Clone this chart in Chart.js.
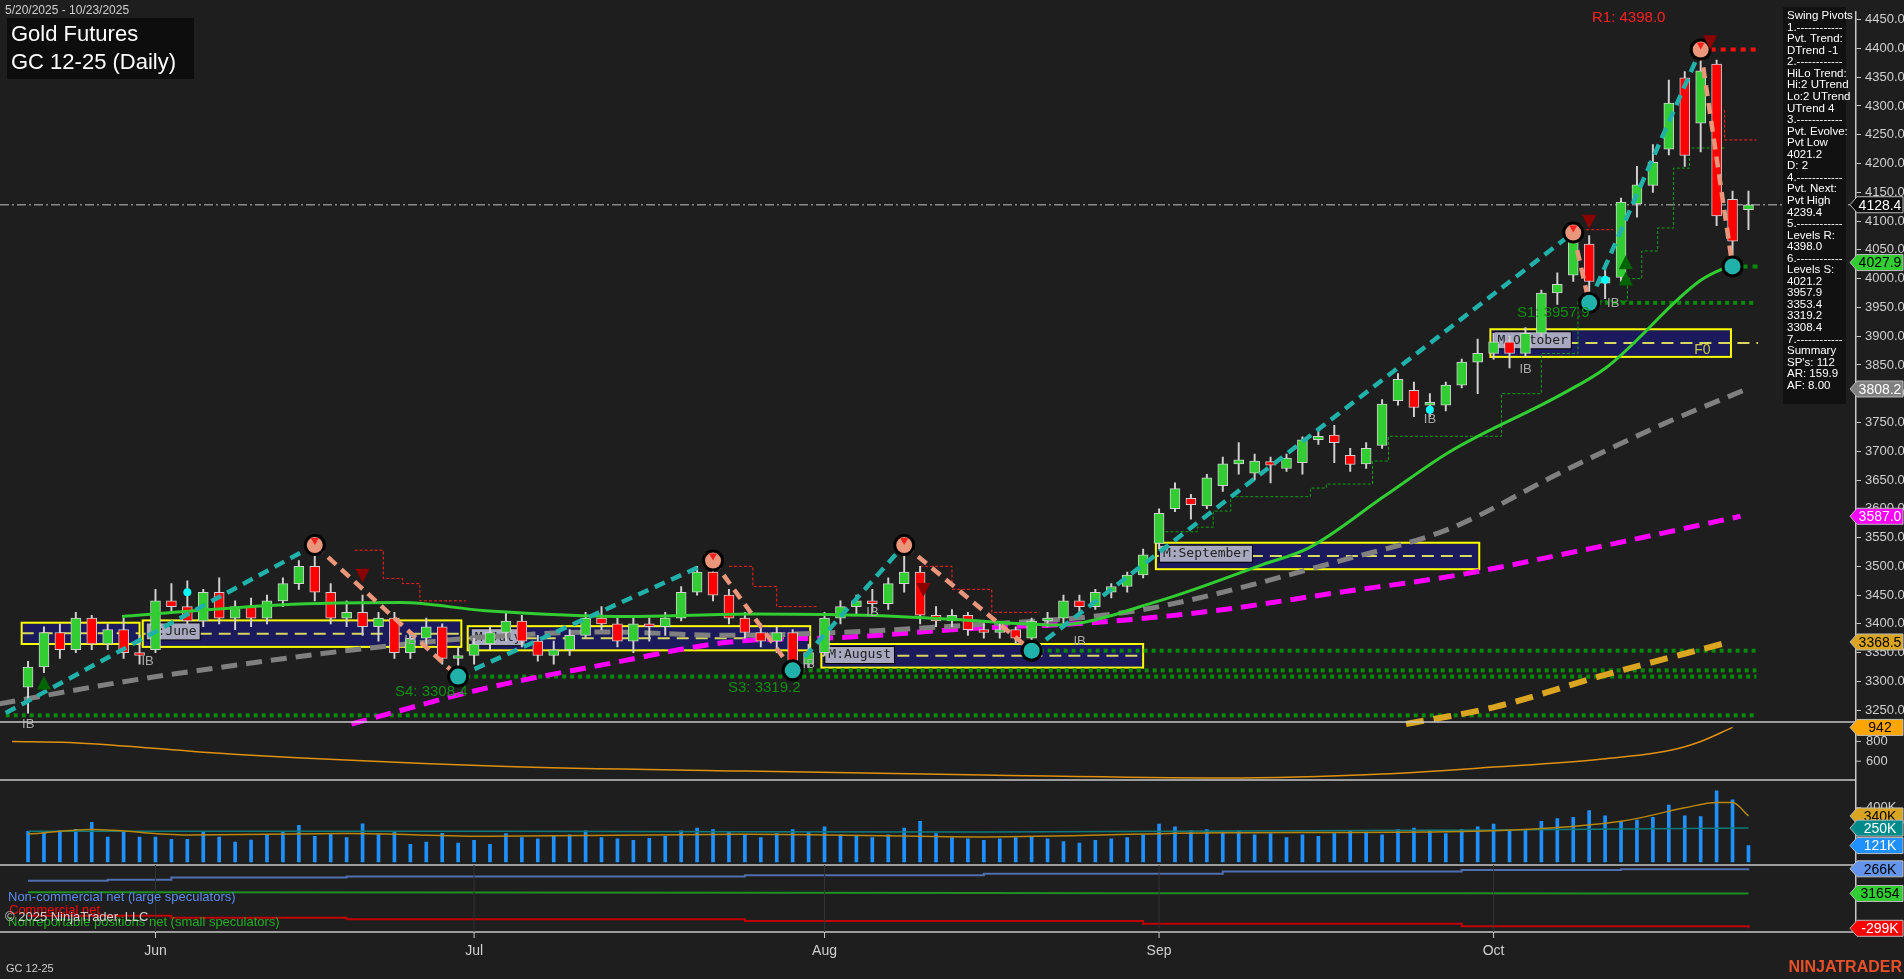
<!DOCTYPE html>
<html><head><meta charset="utf-8">
<script src="https://cdn.jsdelivr.net/npm/chart.js@4.4.1/dist/chart.umd.min.js"></script>
<style>html,body{margin:0;padding:0;background:#1e1e1e;overflow:hidden}#wrap{width:1904px;height:979px}</style>
</head><body><div id="wrap"><canvas id="c" width="1904" height="979"></canvas></div>
<script>
// ---------- DATA ----------
const dates = ["05-20","05-21","05-22","05-23","05-27","05-28","05-29","05-30",
"06-02","06-03","06-04","06-05","06-06","06-09","06-10","06-11","06-12","06-13","06-16","06-17","06-18","06-20","06-23","06-24","06-25","06-26","06-27","06-30",
"07-01","07-02","07-03","07-07","07-08","07-09","07-10","07-11","07-14","07-15","07-16","07-17","07-18","07-21","07-22","07-23","07-24","07-25","07-28","07-29","07-30","07-31",
"08-01","08-04","08-05","08-06","08-07","08-08","08-11","08-12","08-13","08-14","08-15","08-18","08-19","08-20","08-21","08-22","08-25","08-26","08-27","08-28","08-29",
"09-02","09-03","09-04","09-05","09-08","09-09","09-10","09-11","09-12","09-15","09-16","09-17","09-18","09-19","09-22","09-23","09-24","09-25","09-26","09-29","09-30",
"10-01","10-02","10-03","10-06","10-07","10-08","10-09","10-10","10-13","10-14","10-15","10-16","10-17","10-20","10-21","10-22","10-23"];
const opens = [3290,3325,3385,3355,3410,3365,3390,3350,
3355,3440,3430,3405,3455,3410,3430,3410,3440,3470,3500,3455,3410,3420,3395,3410,3350,3375,3395,3340,
3345,3365,3385,3405,3370,3345,3355,3380,3410,3400,3370,3400,3395,3410,3455,3490,3450,3410,3385,3370,3385,3330,
3350,3410,3430,3440,3435,3470,3490,3415,3405,3415,3390,3385,3390,3375,3405,3410,3440,3430,3455,3465,3485,
3540,3600,3618,3605,3640,3678,3662,3682,3670,3680,3720,3728,3693,3678,3710,3788,3806,3780,3780,3815,3855,
3870,3890,3870,3905,3975,4006,4060,3992,4002,4130,4162,4225,4349,4270,4373,4138,4120];
const highs = [3335,3395,3400,3420,3415,3400,3410,3380,
3460,3470,3475,3460,3480,3440,3445,3450,3480,3510,3537,3470,3440,3450,3420,3420,3385,3410,3400,3360,
3375,3395,3420,3415,3380,3370,3390,3420,3430,3410,3410,3410,3420,3465,3500,3510,3460,3420,3400,3395,3390,3365,
3420,3440,3450,3460,3480,3537,3500,3430,3425,3420,3400,3400,3395,3410,3420,3450,3450,3460,3470,3490,3530,
3600,3645,3625,3660,3690,3715,3695,3690,3695,3725,3735,3745,3705,3715,3790,3835,3820,3800,3820,3860,3895,
3905,3900,3915,3980,4010,4080,4075,4025,4140,4195,4233,4345,4360,4398,4380,4152,4152];
const lows = [3245,3315,3340,3350,3355,3355,3340,3330,
3350,3420,3400,3395,3400,3390,3395,3400,3430,3460,3440,3400,3395,3380,3370,3340,3340,3360,3330,3308.4,
3330,3355,3370,3360,3335,3330,3345,3375,3390,3360,3350,3370,3380,3405,3450,3440,3400,3375,3360,3350,3319.2,3325,
3345,3400,3415,3420,3425,3455,3400,3395,3395,3380,3375,3375,3365,3353.4,3395,3400,3420,3425,3445,3455,3480,
3530,3595,3582,3600,3630,3660,3650,3645,3665,3660,3712,3680,3665,3670,3705,3780,3760,3760,3770,3810,3800,
3860,3845,3865,3900,3955,3995,3957.9,3965,3995,4107,4150,4215,4195,4220,4092,4021.2,4085];
const closes = [3325,3385,3355,3410,3365,3390,3350,3345,
3440,3430,3405,3455,3410,3430,3410,3440,3470,3500,3455,3410,3420,3395,3410,3350,3375,3395,3340,3345,
3365,3385,3405,3370,3345,3355,3380,3410,3400,3370,3400,3395,3410,3455,3490,3450,3410,3385,3370,3385,3330,3350,
3410,3430,3440,3435,3470,3490,3415,3405,3415,3390,3385,3390,3375,3405,3410,3440,3430,3455,3465,3485,3520,
3592,3635,3607,3654,3678,3685,3683,3676,3688,3720,3726,3715,3677,3705,3782,3825,3776,3785,3815,3855,3870,
3890,3870,3905,3975,3990,4064,3995,4002,4133,4163,4202,4305,4214,4361,4109,4065,4128.4];
const volumeK = [226,226,231,241,292,183,226,183,183,168,168,226,183,146,161,197,226,270,190,212,180,282,205,226,131,146,212,139,160,131,
210,180,170,190,200,230,180,170,160,175,190,230,250,240,220,200,180,210,240,220,
260,200,190,180,200,250,300,210,180,170,160,170,180,190,170,150,140,160,170,180,200,
280,260,230,240,220,230,200,210,180,200,190,210,230,220,200,240,250,230,210,240,260,
280,230,240,300,320,330,380,340,300,310,330,420,340,336,526,460,121];
// moving averages / indicator lines read as sparse points [barIndex, value]
const ma20 = [[5.9,3413],[15.8,3433],[23.4,3437],[28.7,3423],[37.9,3413],[45.5,3417],[54.6,3413],[59.2,3406],[64.5,3398],[71,3440],[77.5,3503],[80.4,3532],[85.2,3623],[89.3,3700],[96.2,3798],[99.1,3846],[105,3997],[107.3,4027.9]];
const ma50 = [[-1.8,3261],[5.9,3299],[13.5,3330],[21.1,3357],[28.7,3377],[36.3,3386],[43.9,3380],[51.6,3386],[59.2,3398],[66.8,3413],[71,3430],[82.3,3509],[89.3,3566],[96,3660],[102.7,3748],[107.9,3808.2]];
const ma100 = [[20.3,3226],[28.7,3288],[36.3,3330],[43.9,3368],[51.6,3377],[59.2,3392],[66.8,3402],[74.5,3423],[82.1,3454],[89.8,3485],[97.4,3527],[107.5,3587]];
const ma200 = [[86.5,3226],[92,3255],[98.7,3309],[106.8,3368.5]];
const oscLine = [[-1,800],[2.6,790],[12.9,670],[29.6,550],[45,500],[60,460],[75,430],[85,470],[92,540],[98.7,620],[103.1,710],[105,800],[107,942]];
const volAvg = [[0,206],[4,240],[10,200],[20,210],[29,190],[45,205],[60,185],[75,215],[90,225],[100,300],[104,400],[106,440],[107,440],[108,340]];
const volTeal = [[0,226],[30,226],[60,222],[90,235],[108,250]];
const cotLarge = [[0,153],[5,162],[9,184],[20,194],[30,194],[45,205],[60,220],[75,240],[90,255],[100,262],[108,266]];
const cotSmall = [[0,44],[30,40],[60,36],[90,33],[108,31.654]];
const cotComm = [[0,-181],[9,-200],[20,-212],[45,-230],[70,-255],[90,-280],[108,-299]];
// swing pivots [index, price]
const pivotHighs = [[18,3537],[43,3510],[55,3537],[97,4080],[105,4398]];
const pivotLows = [[-1.4,3245],[27,3308.4],[48,3319.2],[63,3353.4],[98,3957.9],[107,4021.2]];
// monthly boxes
const boxNames = ["","M:June","M:July","M:August","M:September","M:October"];
const boxStart = [-0.4,7.2,27.6,49.8,70.8,91.8];
const boxEnd = [7.0,27.2,49.1,70.0,91.1,106.9];
const boxHigh = [3402,3406,3396,3365,3541,3912];
const boxLow = [3365,3360,3354,3324,3495,3864];
// support / resistance levels
const supportLevels = [[3957.9,98],[3353.4,63],[3319.2,48],[3308.4,27],[3241,-1.4]];
const greenSteps = [[71.4,73.4,3560],[73.4,74.4,3568],[74.4,75.5,3596],[75.5,80.5,3621],[80.5,81.5,3636],[81.5,84.4,3643],[84.4,85.4,3683],[85.4,92.5,3726],[92.5,95,3800],[95,97.3,3870],[97.3,100.4,3961],[100.4,101.3,4000],[101.3,102.3,4048],[102.3,103.3,4088],[103.3,104.3,4192],[104.3,106.5,4227]];
const redSteps = [[20.5,22.3,3528],[22.3,23.5,3479],[23.5,24.6,3470],[24.6,27.5,3440],[44,45.5,3500],[45.5,47,3465],[47,49.5,3430],[56,58,3500],[58,60.5,3460],[60.5,63.5,3420],[97.5,99.5,4085],[105.5,106.5,4292],[106.5,108.5,4241]];
const downTri = [[21,3475],[56.2,3450],[98,4090],[105.6,4402]];
const upTri = [[1,3300],[100.3,4002],[100.3,4030]];
const cyanDots = [[10,3455],[88,3772],[99,3998]];
const ibLabels = [[0,3225],[7.5,3335],[24,3372],[49,3330],[53,3420],[66,3370],[88,3755],[94,3842],[99.5,3957]];
const monthTickIdx = [8,28,50,71,92];
const monthNames = ["Jun","Jul","Aug","Sep","Oct"];
const lastPrice = 4128.4;
const infoLines = ["Swing Pivots","1.------------","Pvt. Trend:","DTrend -1","2.------------","HiLo Trend:","Hi:2 UTrend","Lo:2 UTrend","UTrend 4","3.------------","Pvt. Evolve:","Pvt Low","4021.2","D: 2","4.------------","Pvt. Next:","Pvt High","4239.4","5.------------","Levels R:","4398.0","6.------------","Levels S:","4021.2","3957.9","3353.4","3319.2","3308.4","7.------------","Summary","SP's: 112","AR: 159.9","AF: 8.00"];

// ---------- CHART ----------
const GREEN='#32cd32', RED='#ff0000';
const pts = a => a.map(p=>({x:p[0],y:p[1]}));
const lineDs = (data, axis, color, width, dash, order) => ({type:'line', data:pts(data), yAxisID:axis, borderColor:color, borderWidth:width, borderDash:dash||[], pointRadius:0, tension:0.35, cubicInterpolationMode:'monotone', order:order, fill:false});

const fixedAxis = (min,max) => ({display:false, min:min, max:max});

const overlay = {
  id:'overlay',
  beforeDatasetsDraw(chart){
    const {ctx, scales:{x, y}} = chart;
    ctx.save();
    // monthly boxes
    for(let i=0;i<boxStart.length;i++){
      const x1=x.getPixelForValue(boxStart[i]), x2=x.getPixelForValue(boxEnd[i]);
      const y1=y.getPixelForValue(boxHigh[i]), y2=y.getPixelForValue(boxLow[i]);
      ctx.fillStyle='#1a1a5c'; ctx.fillRect(x1,y1,x2-x1,y2-y1);
      ctx.strokeStyle='#ffff00'; ctx.lineWidth=2; ctx.setLineDash([]); ctx.strokeRect(x1,y1,x2-x1,y2-y1);
      const ym=(y1+y2)/2;
      ctx.strokeStyle='#d8d860'; ctx.setLineDash([12,7]); ctx.lineWidth=2;
      ctx.beginPath(); ctx.moveTo(x1,ym); ctx.lineTo(i===5?x.getPixelForValue(108.6):x2,ym); ctx.stroke();
      ctx.setLineDash([]);
      if(boxNames[i]){
        ctx.font='13px "DejaVu Sans Mono"';
        const w=ctx.measureText(boxNames[i]).width+6;
        const lx=x1+4, ly=y1+3;
        ctx.fillStyle='#000'; ctx.fillRect(lx-1,ly-1,w+2,18);
        ctx.fillStyle='#a8a8c0'; ctx.fillRect(lx,ly,w,16);
        ctx.fillStyle='#222'; ctx.textBaseline='middle'; ctx.fillText(boxNames[i],lx+3,ly+8);
      }
    }
    ctx.fillStyle='#c8c840'; ctx.font='14px Arial'; ctx.textBaseline='middle';
    ctx.fillText('F0', x.getPixelForValue(104.6), y.getPixelForValue(3875));
    // last price dash-dot line
    ctx.strokeStyle='#8a8a8a'; ctx.lineWidth=1.5; ctx.setLineDash([9,3,2,3]);
    const yl=y.getPixelForValue(lastPrice);
    ctx.beginPath(); ctx.moveTo(0,yl); ctx.lineTo(1856,yl); ctx.stroke();
    // support dotted
    ctx.setLineDash([4,4]); ctx.lineWidth=4; ctx.strokeStyle='#0a8a0a';
    supportLevels.forEach(s=>{const yy=y.getPixelForValue(s[0]); ctx.beginPath(); ctx.moveTo(x.getPixelForValue(s[1]),yy); ctx.lineTo(x.getPixelForValue(108.5),yy); ctx.stroke();});
    // thin steps
    ctx.lineWidth=1; ctx.setLineDash([3,2]);
    const steps=(arr,col)=>{ctx.strokeStyle=col; ctx.beginPath(); arr.forEach((s,k)=>{const a=x.getPixelForValue(s[0]),b=x.getPixelForValue(s[1]),yy=y.getPixelForValue(s[2]);
      if(k>0 && Math.abs(arr[k-1][1]-s[0])<0.01){ctx.lineTo(a,yy);} else ctx.moveTo(a,yy); ctx.lineTo(b,yy);}); ctx.stroke();};
    steps(greenSteps,'#11a011'); steps(redSteps,'#ff2020');
    ctx.restore();
  },
  afterDatasetsDraw(chart){
    const {ctx, scales:{x, y, yo, yv, yc}} = chart;
    const P=(i,v)=>[x.getPixelForValue(i), y.getPixelForValue(v)];
    ctx.save();
    // 4021.2 and 4398 thick levels
    ctx.setLineDash([5,5]); ctx.lineWidth=4;
    ctx.strokeStyle='#0a8a0a'; let a=P(107,4021.2), b=P(108.6,4021.2); ctx.beginPath(); ctx.moveTo(a[0],a[1]); ctx.lineTo(b[0],b[1]); ctx.stroke();
    ctx.strokeStyle='#ff1010'; a=P(105,4398); b=P(108.6,4398); ctx.beginPath(); ctx.moveTo(a[0],a[1]); ctx.lineTo(b[0],b[1]); ctx.stroke();
    // swing lines
    const all=[...pivotHighs.map(p=>[...p,1]),...pivotLows.map(p=>[...p,0])].sort((m,n)=>m[0]-n[0]);
    ctx.lineWidth=4.5; ctx.setLineDash([11,7]);
    for(let k=0;k<all.length-1;k++){
      const s=all[k], e=all[k+1];
      ctx.strokeStyle = s[2]===0 ? '#20b2aa' : '#e9967a';
      const p1=P(s[0],s[1]), p2=P(e[0],e[1]);
      ctx.beginPath(); ctx.moveTo(p1[0],p1[1]); ctx.lineTo(p2[0],p2[1]); ctx.stroke();
    }
    ctx.setLineDash([]);
    // pivot circles
    all.forEach(p=>{ if(p[0]<0) return; const c=P(p[0],p[1]);
      ctx.fillStyle='#000'; ctx.beginPath(); ctx.arc(c[0],c[1],11,0,Math.PI*2); ctx.fill();
      ctx.fillStyle= p[2]? '#e9967a':'#20b2aa'; ctx.beginPath(); ctx.arc(c[0],c[1],8,0,Math.PI*2); ctx.fill();
      if(p[2]){ctx.fillStyle='#ff2020'; ctx.beginPath(); ctx.moveTo(c[0]-4,c[1]-7); ctx.lineTo(c[0]+4,c[1]-7); ctx.lineTo(c[0],c[1]); ctx.fill();}
    });
    // triangles
    downTri.forEach(t=>{const c=P(t[0],t[1]); ctx.fillStyle='#8b0000'; ctx.beginPath(); ctx.moveTo(c[0]-7,c[1]-12); ctx.lineTo(c[0]+7,c[1]-12); ctx.lineTo(c[0],c[1]+2); ctx.fill();});
    upTri.forEach(t=>{const c=P(t[0],t[1]); ctx.fillStyle='#006400'; ctx.beginPath(); ctx.moveTo(c[0]-7,c[1]+8); ctx.lineTo(c[0]+7,c[1]+8); ctx.lineTo(c[0],c[1]-6); ctx.fill();});
    cyanDots.forEach(t=>{const c=P(t[0],t[1]); ctx.fillStyle='#00ffff'; ctx.beginPath(); ctx.arc(c[0],c[1],4,0,Math.PI*2); ctx.fill();});
    ctx.font='13px Arial'; ctx.fillStyle='#aaaaaa'; ctx.textBaseline='middle';
    ibLabels.forEach(t=>{const c=P(t[0],t[1]); ctx.fillText('IB',c[0]-6,c[1]);});
    // level labels
    ctx.font='15px Arial';
    ctx.fillStyle='#0f8f0f';
    ctx.fillText('S4: 3308.4',395,692); ctx.fillText('S3: 3319.2',728,688); ctx.fillText('S1: 3957.9',1517,313);
    ctx.fillStyle='#ff2020'; ctx.fillText('R1: 4398.0',1592,18);
    // panel separators
    ctx.strokeStyle='#c8c8c8'; ctx.lineWidth=1.5;
    [722,780,865,932].forEach(yy=>{ctx.beginPath(); ctx.moveTo(0,yy); ctx.lineTo(1856,yy); ctx.stroke();});
    // month ticks
    ctx.fillStyle='#d0d0d0'; ctx.font='14px Arial'; ctx.textAlign='center';
    monthTickIdx.forEach((m,k)=>{const xx=x.getPixelForValue(m);
      ctx.strokeStyle='#333'; ctx.lineWidth=1; ctx.beginPath(); ctx.moveTo(xx,865); ctx.lineTo(xx,932); ctx.stroke();
      ctx.strokeStyle='#c8c8c8'; ctx.beginPath(); ctx.moveTo(xx,932); ctx.lineTo(xx,938); ctx.stroke();
      ctx.fillText(monthNames[k],xx,951);});
    ctx.textAlign='left';
    // secondary axis tick labels
    ctx.font='13px Arial'; ctx.fillStyle='#d0d0d0';
    [[800,yo],[600,yo]].forEach(t=>{const yy=t[1].getPixelForValue(t[0]); ctx.fillText(String(t[0]),1866,yy); ctx.strokeStyle='#c8c8c8'; ctx.beginPath(); ctx.moveTo(1856,yy); ctx.lineTo(1861,yy); ctx.stroke();});
    [[400,'400K'],[0,'']].forEach(t=>{const yy=yv.getPixelForValue(t[0]); ctx.fillText(t[1],1866,yy); ctx.beginPath(); ctx.moveTo(1856,yy); ctx.lineTo(1861,yy); ctx.stroke();});
    // COT legend
    ctx.font='13px Arial';
    ctx.fillStyle='#5b8def'; ctx.fillText('Non-commercial net (large speculators)',8,897);
    ctx.fillStyle='#ff0000'; ctx.fillText('Commercial net',9,910);
    ctx.fillStyle='#22b022'; ctx.fillText('Nonreportable positions net (small speculators)',8,922);
    ctx.fillStyle='#d0d0d0'; ctx.fillText('\u00a9 2025 NinjaTrader, LLC',5,917);
    // value tags on the right axis
    const tag=(yy,txt,bg,fg)=>{ctx.fillStyle=bg; ctx.beginPath(); ctx.moveTo(1850,yy); ctx.lineTo(1857,yy-8); ctx.lineTo(1903,yy-8); ctx.lineTo(1903,yy+8); ctx.lineTo(1857,yy+8); ctx.closePath(); ctx.fill();
      ctx.strokeStyle='#bbb'; ctx.lineWidth=1; ctx.stroke(); ctx.fillStyle=fg; ctx.font='14px Arial'; ctx.textAlign='center'; ctx.fillText(txt,1880,yy+1); ctx.textAlign='left';};
    tag(y.getPixelForValue(4128.4),'4128.4','#0d0d0d','#fff');
    tag(y.getPixelForValue(4027.9),'4027.9',GREEN,'#000');
    tag(y.getPixelForValue(3808.2),'3808.2','#808080','#fff');
    tag(y.getPixelForValue(3587.0),'3587.0','#ff00ff','#fff');
    tag(y.getPixelForValue(3368.5),'3368.5','#daa520','#000');
    tag(yo.getPixelForValue(942),'942','#ffa500','#000');
    tag(yv.getPixelForValue(340),'340K','#daa520','#000');
    tag(yv.getPixelForValue(250),'250K','#008b8b','#fff');
    tag(yv.getPixelForValue(121),'121K','#1e90ff','#fff');
    tag(yc.getPixelForValue(266),'266K','#6495ed','#000');
    tag(yc.getPixelForValue(31.654),'31654',GREEN,'#000');
    tag(yc.getPixelForValue(-299),'-299K','#ff0000','#fff');
    // info box
    ctx.fillStyle='#111'; ctx.fillRect(1783,7,63,397);
    ctx.fillStyle='#fff'; ctx.font='11.5px Arial'; ctx.textBaseline='middle';
    infoLines.forEach((l,k)=>ctx.fillText(l,1787,16+k*11.55));
    // title
    ctx.fillStyle='#cfcfcf'; ctx.font='12px Arial'; ctx.fillText('5/20/2025 - 10/23/2025',5,11);
    ctx.fillStyle='#0d0d0d'; ctx.fillRect(7,18,187,61);
    ctx.fillStyle='#fff'; ctx.font='22px Arial'; ctx.fillText('Gold Futures',11,35); ctx.fillText('GC 12-25 (Daily)',11,63);
    ctx.fillStyle='#cfcfcf'; ctx.font='11px Arial'; ctx.fillText('GC 12-25',6,969);
    ctx.fillStyle='#e8502a'; ctx.font='bold 16px Arial'; ctx.textAlign='right'; ctx.fillText('NINJATRADER',1902,968);
    ctx.restore();
  }
};

const bodies = closes.map((c,i)=>({x:i, y:[opens[i], c===opens[i]? c+0.8 : c]}));
const wicks = closes.map((c,i)=>({x:i, y:[lows[i], highs[i]]}));
const bodyColors = closes.map((c,i)=> c>=opens[i] ? GREEN : RED);

new Chart(document.getElementById('c'), {
  data:{datasets:[
    {type:'bar', data:bodies, yAxisID:'y', backgroundColor:bodyColors, borderColor:'#d0d0d0', borderWidth:1, borderSkipped:false, barThickness:10, grouped:false, order:2},
    {type:'bar', data:wicks, yAxisID:'y', backgroundColor:'#d0d0d0', borderWidth:0, barThickness:1.3, grouped:false, order:3},
    lineDs(ma20,'y',GREEN,3,[],1),
    lineDs(ma50,'y','#808080',5,[16,9],4),
    lineDs(ma100,'y','#ff00ff',5,[16,9],4),
    lineDs(ma200,'y','#daa520',6,[18,10],4),
    lineDs(oscLine,'yo','#e09010',1.5,[],4),
    {type:'bar', data:volumeK.map((v,i)=>({x:i,y:v})), yAxisID:'yv', backgroundColor:'#1e90ff', barThickness:3, grouped:false, order:5},
    lineDs(volAvg,'yv','#b8860b',1.5,[],1),
    lineDs(volTeal,'yv','#0e7a7a',1.5,[],1),
    {...lineDs(cotLarge,'yc','#4f6fb0',2,[],1), stepped:true, tension:0},
    {...lineDs(cotSmall,'yc','#1f8f1f',2,[],1), tension:0},
    {...lineDs(cotComm,'yc','#c00000',2,[],1), stepped:true, tension:0}
  ]},
  options:{
    responsive:false, animation:false, devicePixelRatio:1,
    layout:{padding:{left:0,right:0,top:0,bottom:47}},
    plugins:{legend:{display:false}, tooltip:{enabled:false}},
    scales:{
      x:{type:'linear', min:-1.76, max:114.75, display:false, offset:false},
      y:{position:'right', min:2864.5, max:4463.7,
         afterFit(s){s.width=48;},
         afterBuildTicks(s){const t=[]; for(let v=3250; v<=4450; v+=50) t.push({value:v}); s.ticks=t;},
         ticks:{color:'#d0d0d0', font:{size:13, family:'Arial'}, padding:4, callback:v=>Number(v).toFixed(1), autoSkip:false},
         grid:{drawOnChartArea:false, color:'#c8c8c8', tickLength:5},
         border:{color:'#c8c8c8', width:1.5}},
      yo:fixedAxis(-1130,8190),
      yv:fixedAxis(-518,6285),
      yc:fixedAxis(-334.2,8408)
    }
  },
  plugins:[overlay]
});
</script></body></html>
